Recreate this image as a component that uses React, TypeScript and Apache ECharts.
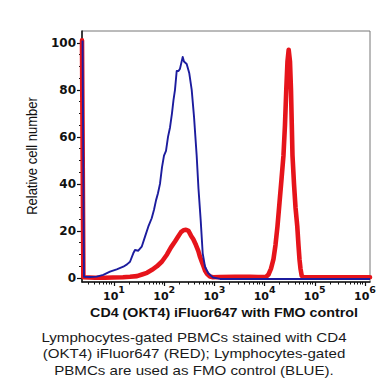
import React, { useEffect, useRef } from "react";
import * as echarts from "echarts";

// Fluorescence channel in decades (log10 of intensity) and relative cell number
const blueChannel = [
  0.374, 0.402, 0.522, 0.655, 0.787, 0.92, 1.054, 1.185, 1.259, 1.319, 1.384, 1.418, 1.484, 1.552,
  1.618, 1.683, 1.751, 1.797, 1.837, 1.876, 1.916, 1.956, 1.996, 2.036, 2.076, 2.116, 2.155, 2.185,
  2.215, 2.249, 2.285, 2.315, 2.369, 2.394, 2.448, 2.5, 2.548, 2.594, 2.647, 2.683, 2.727, 2.767,
  2.813, 2.878, 2.972, 3.112, 4.0, 5.0, 6.1,
];
const blueCount = [
  101, 0.5, 0.4, 0.6, 1.3, 2.7, 3.7, 4.8, 5.8, 6.9, 10.5, 11.9, 11.6, 13.3,
  17.6, 21.8, 25.4, 29, 33, 36, 40, 47, 52, 54, 60, 64, 70, 75.6,
  80, 88, 88, 89, 94, 92, 91, 87, 80, 68.6, 52, 38, 24.6, 10.5,
  4.8, 2, 0.2, -0.4, -0.4, -0.4, -0.4,
];

const redChannel = [
  0.3625, 0.39, 0.622, 0.821, 0.98, 1.179, 1.319, 1.458, 1.558, 1.657, 1.757, 1.857, 1.956, 2.056,
  2.135, 2.215, 2.275, 2.335, 2.384, 2.434, 2.484, 2.534, 2.58, 2.633, 2.679, 2.713, 2.747, 2.783,
  2.813, 2.853, 2.912, 2.972, 3.112, 3.41, 3.709, 3.869, 3.968, 4.028, 4.078, 4.128, 4.177, 4.217,
  4.257, 4.297, 4.337, 4.376, 4.406, 4.432, 4.456, 4.48, 4.506, 4.526, 4.542, 4.556, 4.586, 4.616,
  4.651, 4.675, 4.695, 4.715, 4.739, 4.765, 4.904, 6.1,
];
const redCount = [
  101, 0.3, 0.1, 0.1, 0.2, 0.3, 0.5, 0.8, 1.5, 2.2, 3.5, 5, 7, 10,
  13, 15.5, 17.5, 19.5, 20.3, 20.5, 20, 18, 16.5, 14, 11.5, 9, 7, 5,
  3.2, 1.8, 0.6, 0.3, 0.4, 0.5, 0.5, 0.4, 0.4, 0.5, 1.5, 4, 8, 14,
  22, 32, 42, 52, 65, 80, 92, 97, 92, 80, 65, 52, 40, 30,
  22, 14, 8, 4, 1, 0.4, 0.3, 0.3,
];

// Axis ticks
const decadeTicks = [1, 2, 3, 4, 5, 6];
const countTicks = [0, 20, 40, 60, 80, 100];
const countMinorTicks = [5, 10, 15, 25, 30, 35, 45, 50, 55, 65, 70, 75, 85, 90, 95];
const captionLines = [
  "Lymphocytes-gated PBMCs stained with CD4",
  "(OKT4) iFluor647 (RED); Lymphocytes-gated",
  "PBMCs are used as FMO control (BLUE).",
];

const X_MIN = 0.3625;
const X_MAX = 6.1;
const Y_MIN = -1.7;
const Y_MAX = 105;

const decadeMinorTicks: number[] = [];
for (let k = 0; k <= 6; k++) {
  for (let m = 2; m <= 9; m++) {
    const v = k + Math.log10(m);
    if (v > X_MIN && v < X_MAX) decadeMinorTicks.push(v);
  }
}

const pairs = (xs: number[], ys: number[]) => xs.map((x, i) => [x, ys[i]]);

const AXIS_COLOR = "#111";

function buildOption(): any {
  return {
    animation: false,
    backgroundColor: "#fff",
    grid: {
      left: 82,
      right: 16,
      top: 31,
      bottom: 104,
      show: true,
      borderColor: "#777",
      borderWidth: 1,
      backgroundColor: "transparent",
    },
    xAxis: [
      {
        type: "value",
        position: "bottom",
        min: X_MIN,
        max: X_MAX,
        axisLine: { onZero: false, lineStyle: { color: AXIS_COLOR, width: 1.5 } },
        splitLine: { show: false },
        axisTick: { customValues: decadeTicks, length: 4, lineStyle: { color: AXIS_COLOR, width: 1.2 } },
        axisLabel: {
          customValues: decadeTicks,
          margin: 2,
          formatter: (v: number) => `{b|10}{s|${Math.round(v)}}`,
          rich: {
            b: {
              fontFamily: "DejaVu Sans",
              fontWeight: "bold",
              fontSize: 11,
              color: AXIS_COLOR,
              lineHeight: 18,
              verticalAlign: "bottom",
            },
            s: {
              fontFamily: "DejaVu Sans",
              fontWeight: "bold",
              fontSize: 9.5,
              color: AXIS_COLOR,
              lineHeight: 18,
              verticalAlign: "top",
            },
          },
        },
      },
      {
        type: "value",
        position: "bottom",
        min: X_MIN,
        max: X_MAX,
        axisLine: { show: false, onZero: false },
        splitLine: { show: false },
        axisTick: { customValues: decadeMinorTicks, length: 2.5, lineStyle: { color: AXIS_COLOR, width: 1 } },
        axisLabel: { show: false },
      },
    ],
    yAxis: [
      {
        type: "value",
        position: "left",
        min: Y_MIN,
        max: Y_MAX,
        axisLine: { show: true, onZero: false, lineStyle: { color: AXIS_COLOR, width: 1.5 } },
        splitLine: { show: false },
        axisTick: { show: true, customValues: countTicks, length: 5, lineStyle: { color: AXIS_COLOR, width: 1.2 } },
        axisLabel: {
          customValues: countTicks,
          margin: 6,
          fontFamily: "DejaVu Sans",
          fontWeight: "bold",
          fontSize: 12,
          color: AXIS_COLOR,
        },
      },
      {
        type: "value",
        position: "left",
        min: Y_MIN,
        max: Y_MAX,
        axisLine: { show: false, onZero: false },
        splitLine: { show: false },
        axisTick: { show: true, customValues: countMinorTicks, length: 3, lineStyle: { color: AXIS_COLOR, width: 1 } },
        axisLabel: { show: false },
      },
    ],
    series: [
      {
        name: "CD4 (OKT4) iFluor647",
        type: "line",
        xAxisIndex: 0,
        yAxisIndex: 0,
        data: pairs(redChannel, redCount),
        showSymbol: false,
        symbol: "none",
        lineStyle: { color: "#e6141b", width: 4.6, join: "round", cap: "round" },
        z: 2,
      },
      {
        name: "FMO control",
        type: "line",
        xAxisIndex: 0,
        yAxisIndex: 0,
        data: pairs(blueChannel, blueCount),
        showSymbol: false,
        symbol: "none",
        lineStyle: { color: "#1c1c9e", width: 1.9, join: "round" },
        z: 3,
      },
    ],
    graphic: [
      {
        type: "text",
        x: 31.5,
        y: 156,
        rotation: Math.PI / 2,
        scaleY: 1.15,
        style: {
          text: "Relative cell number",
          fontFamily: "Liberation Sans",
          fontSize: 13,
          fill: "#111",
          align: "center",
          verticalAlign: "middle",
          textAlign: "center",
          textVerticalAlign: "middle",
        },
      },
      {
        type: "text",
        x: 224,
        y: 312.5,
        scaleX: 1.19,
        style: {
          text: "CD4 (OKT4) iFluor647 with FMO control",
          fontFamily: "Liberation Sans",
          fontWeight: "bold",
          fontSize: 12,
          fill: "#111",
          align: "center",
          verticalAlign: "middle",
          textAlign: "center",
          textVerticalAlign: "middle",
        },
      },
      ...captionLines.map((line, i) => ({
        type: "text",
        x: 194,
        y: 337 + i * 16.5,
        scaleX: 1.2,
        style: {
          text: line,
          fontFamily: "Liberation Sans",
          fontSize: 12.6,
          fill: "#1a1a1a",
          align: "center",
          verticalAlign: "middle",
          textAlign: "center",
          textVerticalAlign: "middle",
        },
      })),
    ],
  };
}

export default function App() {
  const ref = useRef<HTMLDivElement>(null);
  useEffect(() => {
    if (!ref.current) return;
    const chart = echarts.init(ref.current, null, { renderer: "svg" });
    chart.setOption(buildOption());
    return () => chart.dispose();
  }, []);
  return (
    <div
      ref={ref}
      style={{ position: "fixed", left: 0, top: 0, width: 386, height: 386, background: "#fff" }}
    />
  );
}
